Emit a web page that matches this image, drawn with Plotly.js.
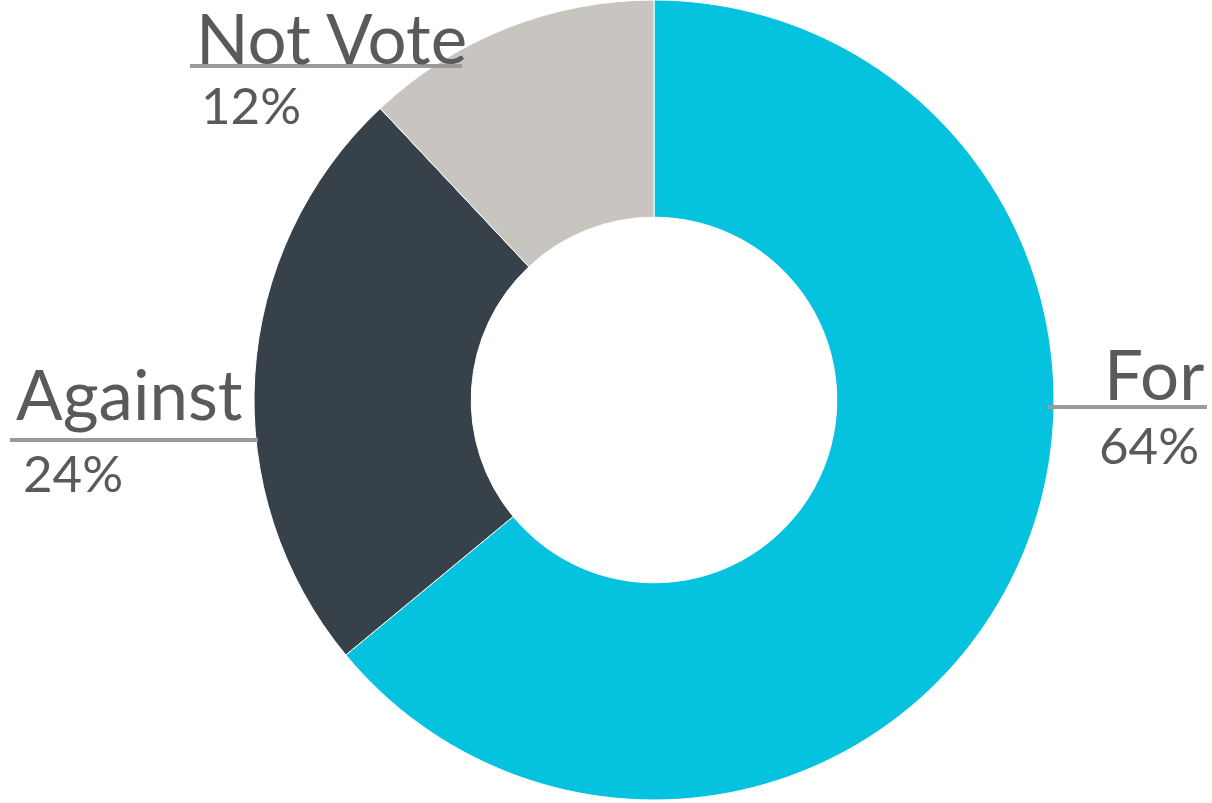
<!DOCTYPE html>
<html>
<head>
<meta charset="utf-8">
<script src="https://cdn.plot.ly/plotly-3.0.1.min.js"></script>
<style>html,body{margin:0;padding:0;background:#fff;}#chart{width:1212px;height:803px;}</style>
</head>
<body>
<div id="chart"></div>
<script>
const categories = ["For", "Against", "Not Vote"];
const values = [64, 24, 12];
const percentLabels = ["64%", "24%", "12%"];
const sliceColors = ["#05C3DF", "#36414A", "#C8C4BF"];

const W = 1212, H = 803, PH = 800;
const px = x => x / W;
const py = y => 1 - y / PH;

// label placement (pixel anchors) per category
const labelPos = {
  "For":      {x: 1206, y: 373, xa: "right", lx0: 1048, lx1: 1207, ly: 407, px: 1201, py: 444},
  "Against":  {x: 14,   y: 394, xa: "left",  lx0: 10,   lx1: 258,  ly: 440, px: 21,   py: 472},
  "Not Vote": {x: 194,  y: 37,  xa: "left",  lx0: 190,  lx1: 462,  ly: 66,  px: 199,  py: 104}
};

const annotations = [];
const shapes = [];
categories.forEach((c, i) => {
  const p = labelPos[c];
  annotations.push({xref: "paper", yref: "paper", x: px(p.x), y: py(p.y), xanchor: p.xa, yanchor: "middle",
    text: c, showarrow: false, font: {family: "Lato, sans-serif", size: 69, color: "#5A5A5A"}});
  annotations.push({xref: "paper", yref: "paper", x: px(p.px), y: py(p.py), xanchor: p.xa, yanchor: "middle",
    text: percentLabels[i], showarrow: false, font: {family: "Lato, sans-serif", size: 51, color: "#5A5A5A"}});
  shapes.push({type: "line", xref: "paper", yref: "paper", x0: px(p.lx0), x1: px(p.lx1), y0: py(p.ly), y1: py(p.ly),
    line: {color: "#9A9A9A", width: 4}});
});

const cx = 654, r = 400;
const trace = {
  type: "pie",
  labels: categories,
  values: values,
  hole: 0.457,
  sort: false,
  direction: "clockwise",
  rotation: 0,
  textinfo: "none",
  hoverinfo: "label+percent",
  marker: {colors: sliceColors, line: {color: "#ffffff", width: 1}},
  domain: {x: [(cx - r) / W, (cx + r) / W], y: [0, 1]}
};

Plotly.newPlot("chart", [trace], {
  width: W, height: H,
  margin: {l: 0, r: 0, t: 0, b: 3},
  showlegend: false,
  paper_bgcolor: "#ffffff",
  annotations: annotations,
  shapes: shapes
}, {displayModeBar: false, staticPlot: true});
</script>
</body>
</html>
